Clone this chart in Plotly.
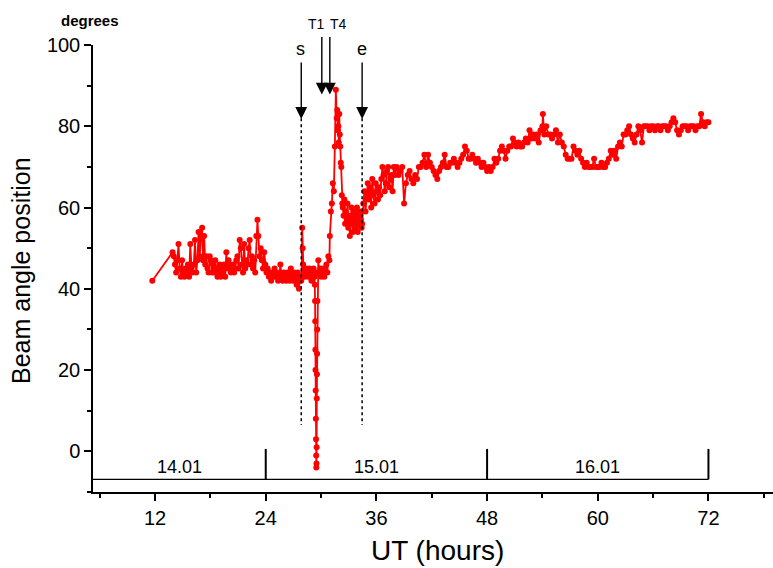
import numpy as np
import plotly.graph_objects as go

# ---------------- data (UT hours, beam angle in degrees) ----------------
ut_first = [11.7]
angle_first = [42]

ut_pre_a = (13.9, 17.1)
angle_pre_a = [49, 48, 46, 44, 47, 51, 45, 43, 47, 44, 43, 45, 44, 46, 43, 51, 45, 44,
               46, 52, 44, 47, 54, 48, 53, 55]

ut_pre_b = (17.2, 23.1)
angle_pre_b = [47, 53, 46, 48, 45, 44, 48, 47, 44, 46, 44, 47, 45, 43, 44, 46, 43, 45,
               44, 46, 43, 49, 45, 47, 46, 44, 45, 46, 44, 45, 47, 48, 45, 52, 50, 46,
               44, 51, 45, 47, 46, 50, 52, 46, 48, 45, 47, 44, 53, 57]

ut_pre_c = (23.2, 27.85)
angle_pre_c = [53, 48, 50, 47, 45, 49, 46, 44, 45, 43, 44, 42, 44, 43, 45, 43, 44, 42,
               43, 46, 43, 42, 44, 43, 42, 44, 43, 42, 45, 43, 42, 44, 43, 41, 44, 40,
               43, 42]

ut_s_spike = (27.9, 28.1)
angle_s_spike = [43, 55, 50, 46, 44]

ut_before_drop = (28.15, 29.3)
angle_before_drop = [44, 43, 45, 44, 43, 45, 44, 42, 44, 45, 43]

ut_drop = (29.33, 29.62)
angle_drop = [41, 37, 32, 25, 20, 15, 8, 3, -1, -4, -3, 1, 13, 19, 24, 30, 37, 44]

ut_after_drop = (29.7, 30.9)
angle_after_drop = [47, 44, 45, 43, 44, 45, 43, 44, 46, 44, 48, 47]

ut_rise = (30.95, 31.6)
angle_rise = [53, 59, 61, 66, 64, 75, 89]

ut_decay = (31.7, 32.3)
angle_decay = [82, 84, 79, 80, 76, 83, 78, 75, 71, 70, 63, 61]

ut_storm = (32.35, 34.4)
angle_storm = [60, 58, 62, 56, 59, 57, 61, 55, 58, 53, 57, 60, 56, 54, 58, 59, 55, 57,
               60, 54, 58, 56, 59, 57, 55]

ut_recovery = (34.45, 38.0)
angle_recovery = [56, 61, 64, 59, 63, 66, 62, 65, 60, 67, 63, 61, 66, 64, 62, 65, 63, 67,
                  70, 68, 64, 66, 69, 70, 65, 67, 68, 64, 70, 68]

ut_day2a = (38.2, 45.0)
angle_day2a = [70, 68, 69, 70, 61, 66, 68, 69, 67, 66, 68, 67, 70, 70, 71, 73, 70, 73,
               71, 70, 69, 68, 67, 69, 70, 71, 73, 70, 70, 71, 71, 72, 71, 70, 71]

ut_day2b = (45.2, 54.0)
angle_day2b = [72, 73, 75, 74, 72, 72, 73, 72, 71, 72, 71, 70, 71, 70, 69, 70, 69, 70,
               72, 71, 72, 74, 75, 74, 72, 74, 75, 75, 77, 76, 75, 76, 75, 75, 76, 77,
               76, 79, 77, 78, 77, 78, 76, 79, 80]

ut_peak = (54.05, 54.05)
angle_peak = [83]

ut_dip = (54.2, 58.0)
angle_dip = [78, 80, 78, 78, 77, 78, 79, 76, 78, 76, 75, 73, 72, 72, 72, 75, 74, 73, 74]

ut_trough = (58.2, 62.0)
angle_trough = [72, 71, 70, 71, 70, 70, 70, 72, 70, 70, 70, 71, 70, 70, 71, 72, 74, 73,
                74, 72]

ut_climb = (62.2, 65.2)
angle_climb = [75, 76, 75, 78, 78, 79, 80, 78, 77, 76, 78, 80, 79, 76, 80, 80]

ut_plateau = (65.4, 72.0)
angle_plateau = [80, 79, 80, 80, 79, 80, 80, 79, 80, 80, 80, 79, 80, 81, 82, 81, 79, 78,
                 79, 80, 80, 80, 79, 80, 80, 80, 79, 80, 80, 83, 81, 80, 81, 81]

segments = [
    (ut_pre_a, angle_pre_a), (ut_pre_b, angle_pre_b), (ut_pre_c, angle_pre_c),
    (ut_s_spike, angle_s_spike), (ut_before_drop, angle_before_drop),
    (ut_drop, angle_drop), (ut_after_drop, angle_after_drop),
    (ut_rise, angle_rise), (ut_decay, angle_decay), (ut_storm, angle_storm),
    (ut_recovery, angle_recovery), (ut_day2a, angle_day2a), (ut_day2b, angle_day2b),
    (ut_peak, angle_peak), (ut_dip, angle_dip), (ut_trough, angle_trough),
    (ut_climb, angle_climb), (ut_plateau, angle_plateau),
]

# event markers
event_s = 27.85
event_e = 34.45
event_t1 = 30.08
event_t4 = 30.95

# day bar
day_bounds = [24, 48, 72]
day_labels = ["14.01", "15.01", "16.01"]
day_label_pos = [14.6, 36, 60]

# ---------------- build series ----------------
ut = list(ut_first)
angle = list(angle_first)
for (t0, t1), vals in segments:
    ut.extend(np.linspace(t0, t1, len(vals)).tolist())
    angle.extend(vals)

FONT = "Liberation Sans, Arial, sans-serif"
X0, X1 = 5.27, 79.0

fig = go.Figure()
fig.add_trace(go.Scatter(
    x=ut, y=angle, mode="lines+markers",
    line=dict(color="#ff0000", width=1.8),
    marker=dict(color="#ff0000", size=6),
    hoverinfo="skip", showlegend=False, cliponaxis=False,
))

shapes = []
# dotted event lines
for xv in (event_s, event_e):
    shapes.append(dict(type="line", xref="x", yref="y", x0=xv, x1=xv, y0=82, y1=6.5,
                       line=dict(color="black", width=1.5, dash="dot")))
# day bar
shapes.append(dict(type="line", xref="x", yref="y", x0=X0, x1=day_bounds[-1],
                   y0=-6.9, y1=-6.9, line=dict(color="black", width=1.3)))
for xb in day_bounds:
    shapes.append(dict(type="line", xref="x", yref="y", x0=xb, x1=xb, y0=0.6, y1=-6.9,
                       line=dict(color="black", width=2)))

annotations = []
for lbl, xp in zip(day_labels, day_label_pos):
    annotations.append(dict(x=xp, y=-3.9, xref="x", yref="y", text=lbl, showarrow=False,
                            xanchor="center", yanchor="middle",
                            font=dict(size=18, color="black", family=FONT)))

# arrows (head inside the axes, tail given in pixels)
for xv, tip, tail_px in ((event_s, 81.8, -58), (event_e, 81.8, -58),
                         (event_t1, 87.8, -59), (event_t4, 87.8, -59)):
    annotations.append(dict(x=xv, y=tip, xref="x", yref="y",
                            ax=0, ay=tail_px, text="", showarrow=True,
                            arrowhead=2, arrowsize=1.7, arrowwidth=1.4,
                            arrowcolor="black"))

def px_to_paper(px, py):
    return (px - 93) / 680.0, (492 - py) / 447.0

tx1 = px_to_paper(316, 24)
tx4 = px_to_paper(338, 24)
deg = px_to_paper(90, 20)
ytit = px_to_paper(21, 271)
xtit = px_to_paper(437, 550)
annotations += [
    dict(x=event_s - 0.1, y=99.0, xref="x", yref="y", text="s", showarrow=False,
         xanchor="center", yanchor="middle",
         font=dict(size=18, color="black", family=FONT)),
    dict(x=event_e, y=99.0, xref="x", yref="y", text="e", showarrow=False,
         xanchor="center", yanchor="middle",
         font=dict(size=18, color="black", family=FONT)),
    dict(x=tx1[0], y=tx1[1], xref="paper", yref="paper", text="T1", showarrow=False,
         xanchor="center", yanchor="middle",
         font=dict(size=14, color="black", family=FONT)),
    dict(x=tx4[0], y=tx4[1], xref="paper", yref="paper", text="T4", showarrow=False,
         xanchor="center", yanchor="middle",
         font=dict(size=14, color="black", family=FONT)),
    dict(x=deg[0], y=deg[1], xref="paper", yref="paper", text="<b>degrees</b>",
         showarrow=False, xanchor="center", yanchor="middle",
         font=dict(size=15, color="black", family=FONT)),
    dict(x=ytit[0], y=ytit[1], xref="paper", yref="paper", text="Beam angle position",
         textangle=-90, showarrow=False, xanchor="center", yanchor="middle",
         font=dict(size=25, color="black", family=FONT)),
    dict(x=xtit[0], y=xtit[1], xref="paper", yref="paper",
         text="UT (hours)", showarrow=False, xanchor="center", yanchor="middle",
         font=dict(size=28, color="black", family=FONT)),
]

fig.update_layout(
    width=773, height=568,
    margin=dict(l=93, r=0, t=45, b=76),
    paper_bgcolor="white", plot_bgcolor="white",
    font=dict(family=FONT, color="black"),
    shapes=shapes, annotations=annotations,
    showlegend=False,
)
axis_common = dict(showgrid=False, zeroline=False, showline=True, linecolor="black",
                   linewidth=1.5, ticks="outside", tickcolor="black", tickwidth=1.5,
                   ticklen=7, tickfont=dict(size=20, color="black", family=FONT))
fig.update_xaxes(range=[X0, X1], tick0=0, dtick=12,
                 minor=dict(tick0=0, dtick=6, ticks="outside", ticklen=4,
                            tickwidth=1.5, tickcolor="black"),
                 **axis_common)
fig.update_yaxes(range=[-10, 100], tick0=0, dtick=20,
                 minor=dict(tick0=0, dtick=10, ticks="outside", ticklen=4,
                            tickwidth=1.5, tickcolor="black"),
                 **axis_common)

fig.write_html("out.html", config={"displayModeBar": False},
               post_script="document.body.style.margin='0';")
